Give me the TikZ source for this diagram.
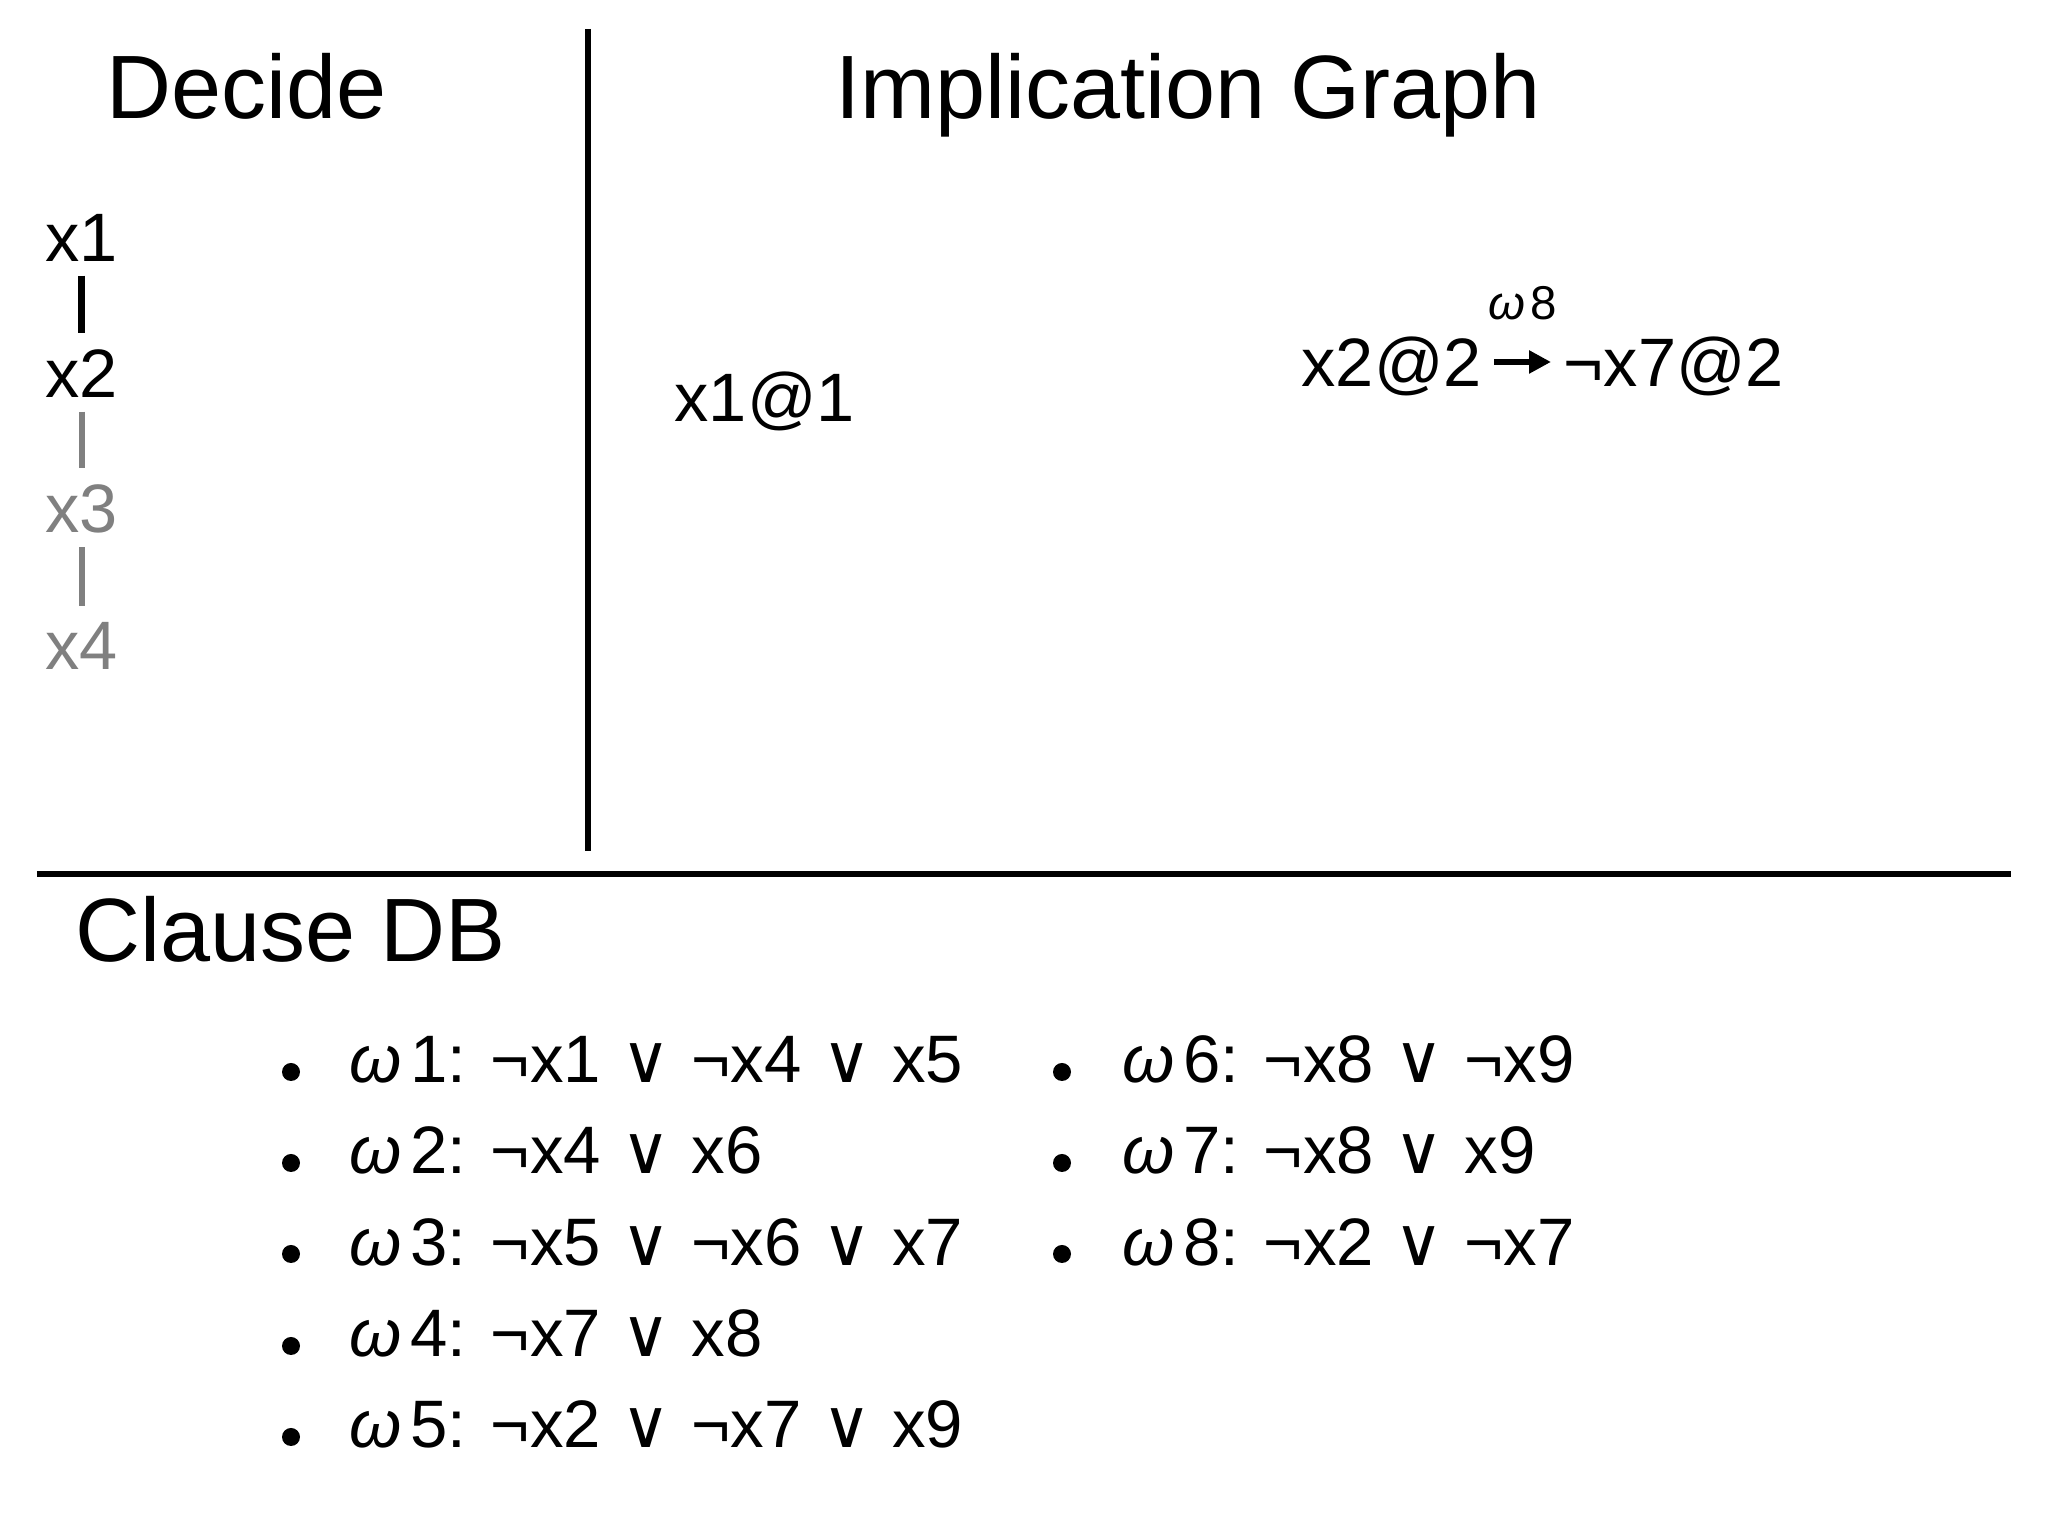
\documentclass[tikz,border=0pt]{standalone}
\usepackage{fontspec}
\setmainfont{Liberation Sans}
\newfontfamily\dejavu{DejaVu Sans}
\usepackage{tikz}
\usetikzlibrary{arrows.meta}
\newcommand{\om}{\textit{ω}\hspace{0.12em}}
\newcommand{\orr}{\hspace{0.03em}{\dejavu ∨}\hspace{0.03em}}
\definecolor{undecided}{gray}{0.5}
\tikzset{
  title/.style={anchor=base west,inner sep=0pt,font=\fontsize{25.6}{30}\selectfont},
  lit/.style={anchor=base west,inner sep=0pt,font=\fontsize{19.5}{23}\selectfont},
  clause/.style={anchor=base west,inner sep=0pt,font=\fontsize{19.1}{23}\selectfont},
  bul/.style={circle,fill,inner sep=0pt,minimum size=0.18cm},
  rule/.style={line width=1.6pt},
  bar/.style={line width=2pt,shorten <=0.13cm,shorten >=0.16cm},
  gbar/.style={bar,line width=1.5pt,undecided},
  imp/.style={line width=1.6pt,-{Triangle[length=0.22cm,width=0.22cm]}}
}

\begin{document}
\begin{tikzpicture}
\useasboundingbox (0,0) rectangle (20.48,15.36);

\node[title] (decide) at (1.06,14.17) {Decide};
\node[title] (impl) at (8.35,14.17) {Implication Graph};
\node[title] (cdb) at (0.75,5.74) {Clause DB};

\coordinate (vtop) at (5.88,15.07);
\coordinate (vbot) at (5.88,6.85);
\coordinate (hl) at (0.37,6.62);
\coordinate (hr) at (20.11,6.62);
\draw[rule] (vtop) -- (vbot);
\draw[rule] (hl) -- (hr);

\node[lit] (x1) at (0.45,12.74) {x1};
\node[lit] (x2) at (0.45,11.38) {x2};
\node[lit,undecided] (x3) at (0.45,10.03) {x3};
\node[lit,undecided] (x4) at (0.45,8.66) {x4};
\draw[bar] (x2.north |- x1.south) -- (x2.north);
\draw[gbar] (x2.south) -- (x2.south |- x3.north);
\draw[gbar] (x2.south |- x3.south) -- (x2.south |- x4.north);

\node[lit] (a) at (6.74,11.14) {x1@1};
\node[lit] (b) at (13.01,11.49) {x2@2};
\node[lit] (c) at (15.63,11.49) {¬x7@2};
\draw[imp] ([shift={(0.12,0.25)}]b.base east) -- node[above=0.39cm,inner sep=0pt,font=\fontsize{13.5}{15}\selectfont] (lw8) {\om8} ([shift={(-0.12,0.25)}]c.base west);

\node[bul] (d1) at (2.91,4.64) {};
\node[bul] (d2) at (2.91,3.73) {};
\node[bul] (d3) at (2.91,2.82) {};
\node[bul] (d4) at (2.91,1.90) {};
\node[bul] (d5) at (2.91,0.99) {};
\node[clause] (w1) at (3.49,4.53) {\om1: ¬x1 \orr{} ¬x4 \orr{} x5};
\node[clause] (w2) at (3.49,3.62) {\om2: ¬x4 \orr{} x6};
\node[clause] (w3) at (3.49,2.70) {\om3: ¬x5 \orr{} ¬x6 \orr{} x7};
\node[clause] (w4) at (3.49,1.79) {\om4: ¬x7 \orr{} x8};
\node[clause] (w5) at (3.49,0.88) {\om5: ¬x2 \orr{} ¬x7 \orr{} x9};

\node[bul] (d6) at (10.62,4.64) {};
\node[bul] (d7) at (10.62,3.73) {};
\node[bul] (d8) at (10.62,2.82) {};
\node[clause] (w6) at (11.22,4.53) {\om6: ¬x8 \orr{} ¬x9};
\node[clause] (w7) at (11.22,3.62) {\om7: ¬x8 \orr{} x9};
\node[clause] (w8) at (11.22,2.70) {\om8: ¬x2 \orr{} ¬x7};

\end{tikzpicture}
\end{document}
